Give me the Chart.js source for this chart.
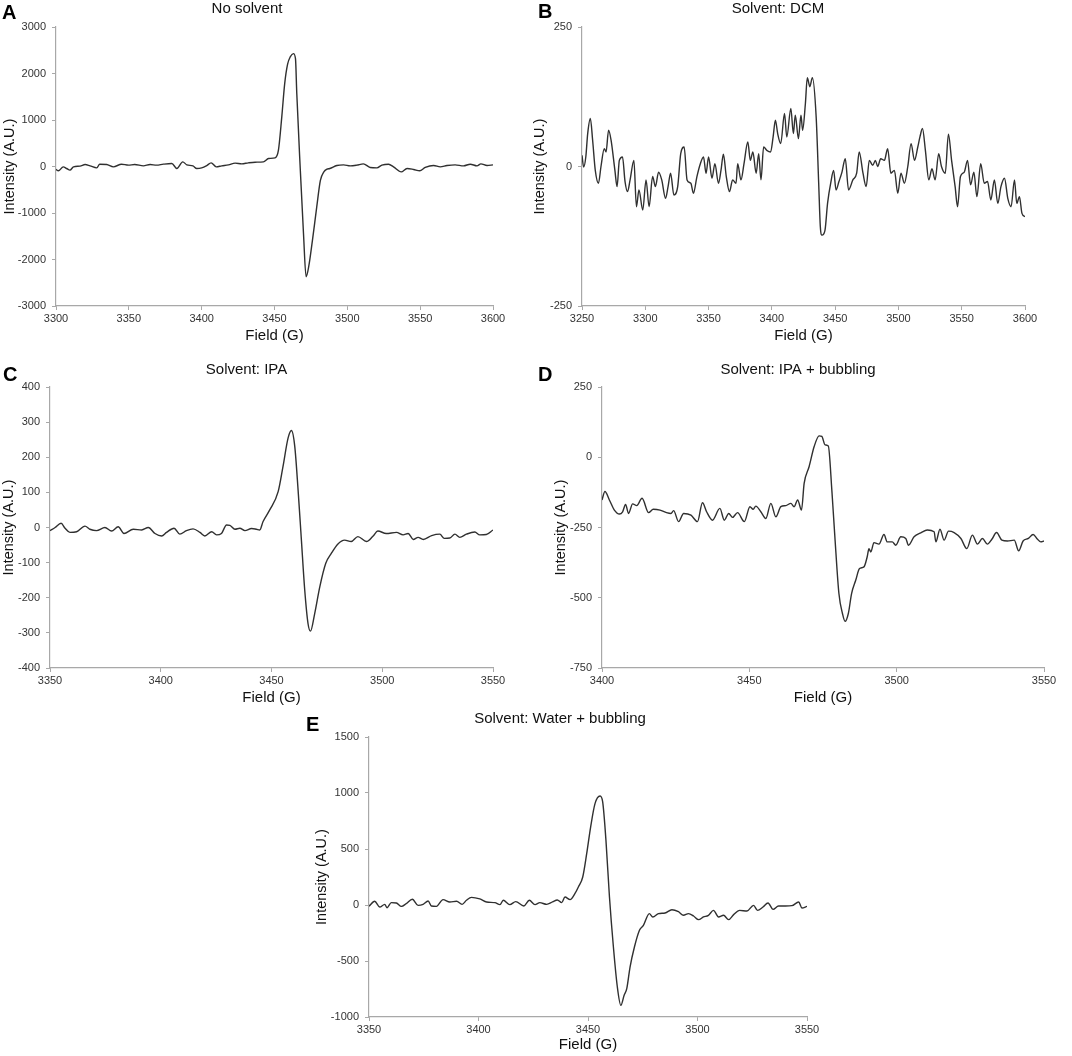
<!DOCTYPE html>
<html>
<head>
<meta charset="utf-8">
<title>EPR spectra</title>
<script src="https://cdn.jsdelivr.net/npm/chart.js@4.4.1/dist/chart.umd.min.js"></script>
<style>
  html, body { margin: 0; padding: 0; background: #fff; }
  #page { position: relative; width: 1072px; height: 1056px; overflow: hidden; font-family: "Liberation Sans", Arial, sans-serif; }
  .panel { position: absolute; }
  .letter { position: absolute; font-weight: bold; font-size: 20px; line-height: 20px; color: #000; }
</style>
</head>
<body>
<div id="page">
  <div class="panel" style="left:1px;top:0px"><canvas id="cA" width="506" height="346"></canvas></div>
  <div class="panel" style="left:531px;top:0px"><canvas id="cB" width="508" height="346"></canvas></div>
  <div class="panel" style="left:0px;top:361px"><canvas id="cC" width="506" height="347"></canvas></div>
  <div class="panel" style="left:552px;top:361px"><canvas id="cD" width="506" height="347"></canvas></div>
  <div class="panel" style="left:313px;top:710px"><canvas id="cE" width="506" height="345"></canvas></div>
  <div class="letter" style="left:2px;top:2px">A</div>
  <div class="letter" style="left:538px;top:1px">B</div>
  <div class="letter" style="left:3px;top:364px">C</div>
  <div class="letter" style="left:538px;top:364px">D</div>
  <div class="letter" style="left:306px;top:714px">E</div>
</div>
<script>
// A - no solvent
const fieldA = [3300,3301.6,3305,3307.3,3309.6,3312,3316.5,3320,3323.4,3328,
  3330,3334.8,3339.4,3345,3349.7,3354,3360,3364.6,3369,3373.7,
  3379.5,3383,3387,3389.8,3394,3396.6,3400,3403.5,3406.5,3410,
  3413.8,3418.4,3423,3427.5,3432,3436.7,3442.4,3445.9,3450.4,3452.7,
  3455,3457,3459,3460.8,3463,3464.4,3465.3,3467.6,3469.9,3471.7,
  3473.5,3476,3479,3481.5,3484,3486,3488,3492.8,3497.4,3502,
  3506.5,3511,3515.7,3520.3,3523.7,3528.3,3531.7,3537,3541,3545.5,
  3549.7,3553.5,3559.2,3563.8,3568.4,3574,3579.8,3584.4,3589,3591.7,
  3595.9,3600];
const intensityA = [-64,-93,-7,-43,-79,-7,7,43,14,-29,
  50,43,-7,50,29,43,14,43,29,50,
  64,-43,100,36,14,-43,-29,21,79,-7,
  14,36,72,57,79,93,100,172,186,351,
  1067,1783,2200,2356,2427,2320,1568,0,-1440,-2370,
  -2150,-1600,-870,-300,-110,-57,-43,21,36,14,
  29,57,-21,-29,29,50,-7,-115,-43,-64,
  -93,-21,21,-7,21,36,14,50,14,57,
  21,36];

// B - DCM
const fieldB = [3250,3251.3,3253,3254.5,3256.6,3258.4,3260.5,3263,3265,3267.6,
  3269,3271,3273,3276,3277.7,3279.5,3282,3284,3286,3288,
  3291,3293,3295,3298,3300.6,3303,3305.8,3308,3310.5,3313,
  3316,3318,3320,3322.6,3325.6,3328,3330.7,3333,3336,3338,
  3340.8,3343.5,3346,3348,3350,3352.7,3355,3357.8,3359.8,3361.7,
  3364,3366.5,3369,3371.7,3373,3375.6,3378,3381,3383,3385,
  3387.6,3389.6,3391.4,3393.5,3396,3399,3401,3402.8,3404.6,3407,
  3410,3411.8,3415,3417,3418.5,3421,3423,3424.3,3426.5,3428,
  3430,3432,3435,3437,3438.3,3439.6,3442,3444,3446.7,3448.8,
  3450.7,3453,3455.4,3458,3460.6,3464,3467,3469,3472,3474.5,
  3477,3479.7,3481.8,3483.6,3486,3488.9,3491.5,3494,3496.8,3499.5,
  3502,3504.7,3507.4,3510,3512.7,3515.3,3517,3519,3521.3,3524,
  3526.5,3529,3531.8,3534,3537,3539.5,3542,3544.8,3546.7,3549,
  3552,3554.6,3557,3559.6,3562,3565,3567.8,3570.4,3573,3575.8,
  3578.5,3581,3583.8,3586.4,3589,3591.7,3593.5,3595.6,3597.6,3600];
const intensityB = [20,-1,17,59,86,47,-7,-30,0,32,
  26,65,47,-7,-36,11,17,-27,-45,-24,
  11,-72,-42,-78,-24,-72,-18,-36,-10,-24,
  -57,-36,-12,-51,-36,23,35,-24,-30,-48,
  -18,5,17,-12,17,-21,5,-30,-7,22,
  -18,-45,-24,-30,5,-24,5,44,11,26,
  -12,23,-24,35,29,26,53,83,59,41,
  95,53,104,59,92,50,92,65,113,159,
  143,159,89,-30,-108,-123,-114,-66,-27,-7,
  -42,-27,-10,14,-42,-24,-12,26,-12,-36,
  11,2,11,0,14,11,32,-12,-7,-48,
  -12,-30,0,41,11,35,53,68,29,-24,
  -4,-24,23,0,-12,58,11,-36,-72,-18,
  -10,11,-33,-10,-54,5,-30,-27,-60,-24,
  -66,-36,-21,-57,-72,-24,-66,-54,-84,-90];

// C - IPA
const fieldC = [3350,3352.3,3355,3356.8,3359,3362,3365.8,3368,3371,3374.8,
  3377.8,3380.8,3383.4,3387.6,3391.4,3394.4,3397.4,3400.4,3402.6,3406,
  3408.6,3411.6,3414.6,3417.7,3419.9,3423,3425.2,3427.4,3429.7,3431.2,
  3433.5,3435.7,3438,3441,3443.2,3444.7,3446.2,3449.2,3453,3455.2,
  3457.5,3459,3460.5,3462,3463.5,3465,3466.5,3467.6,3469.5,3471.8,
  3474.5,3477,3480,3483,3486,3489,3492.9,3495.9,3498,3501.8,
  3506.4,3509.4,3511.7,3514,3516.2,3518.5,3522.3,3526,3528,3530.5,
  3532.8,3535,3538,3541.8,3544,3547,3550];
const intensityC = [-9,0,12,-2,-14,-12,4,-5,-9,0,
  -10,2,-17,-5,-7,0,-17,-24,-14,-2,
  -19,-9,-4,-14,-24,-12,-21,-17,7,6,
  -5,-2,-9,-3,-5,-7,17,50,102,174,
  255,276,231,107,-36,-178,-274,-295,-245,-169,
  -102,-74,-47,-36,-40,-26,-40,-24,-10,-17,
  -14,-21,-17,-34,-28,-34,-23,-19,-31,-30,
  -19,-28,-19,-13,-21,-20,-7];

// D - IPA + bubbling
const fieldD = [3400,3401,3402.5,3404.2,3405.9,3407,3408,3409,3410.4,3411.8,
  3413.6,3415.8,3417.4,3419.7,3421.9,3423.4,3424.3,3426,3427.7,3430.2,
  3432.4,3434.1,3435.5,3437.5,3440,3441.5,3443,3444.3,3446,3448.3,
  3450.2,3451.3,3452.2,3453.9,3455.6,3457.3,3459,3460.7,3462.4,3464.1,
  3465.2,3466.4,3467.7,3468.6,3470.3,3472,3473.7,3474.6,3475.7,3476.8,
  3478,3479.1,3480.4,3481.6,3482.5,3483.6,3484.7,3486.1,3487.4,3488.9,
  3490,3490.6,3491.2,3492.3,3494,3495.7,3496.8,3498.5,3499.7,3501.4,
  3503.1,3504,3505.9,3508.2,3510.4,3512.7,3513.3,3514.7,3516.1,3517.6,
  3519.5,3521.8,3523.8,3525.7,3527.4,3529.1,3530.8,3532.3,3533.9,3535.7,
  3537.6,3539.9,3541.4,3542.9,3544.7,3546.3,3547.8,3548.9,3550];
const intensityD = [-152,-122,-152,-188,-202,-194,-168,-200,-166,-172,
  -146,-197,-185,-188,-197,-200,-190,-229,-200,-206,
  -229,-162,-194,-224,-182,-224,-200,-214,-197,-229,
  -176,-185,-174,-194,-218,-164,-212,-176,-172,-164,
  -176,-152,-188,-93,-33,38,76,74,44,40,
  -117,-295,-485,-556,-584,-556,-485,-438,-396,-390,
  -354,-325,-337,-304,-309,-275,-301,-301,-313,-283,
  -289,-313,-283,-269,-259,-265,-301,-256,-295,-263,
  -268,-289,-325,-277,-309,-289,-309,-292,-268,-295,
  -298,-295,-333,-298,-289,-275,-292,-301,-298];

// E - water + bubbling
const fieldE = [3350,3352.6,3354.9,3357.2,3358.2,3360.2,3362.5,3364.8,3367,3369.8,
  3372.4,3374.7,3377,3378.5,3380.8,3383.8,3386.9,3390,3392.5,3394.5,
  3396.8,3400.6,3403.7,3407.5,3409.8,3411.3,3414.3,3417,3420.7,3423.2,
  3425.8,3428,3431.1,3433.8,3436,3438,3439.5,3441.8,3444,3445.6,
  3447.6,3449.4,3451.2,3453.2,3455.5,3456.7,3458.2,3459.8,3461.6,3463.4,
  3465,3466.5,3467.7,3469.2,3471.2,3473.5,3475.3,3478,3479.6,3482.2,
  3485.2,3488.3,3491.3,3493.6,3495.9,3498.2,3500.5,3502.7,3505,3507.3,
  3509.6,3511.9,3514.2,3516.5,3519.2,3522.6,3525.6,3527.4,3529.9,3532.2,
  3534.5,3537,3540.1,3543.1,3546.2,3547.7,3550];
const intensityE = [-12,33,-18,6,-24,21,18,-12,12,51,
  -3,6,36,-9,-12,48,27,33,6,42,
  68,54,27,21,3,42,3,30,-9,42,
  3,21,6,27,45,21,71,48,101,161,
  250,458,696,905,973,920,577,71,-375,-732,
  -896,-806,-747,-554,-375,-226,-182,-77,-107,-77,
  -71,-42,-60,-92,-77,-98,-131,-107,-92,-48,
  -107,-92,-131,-86,-48,-54,-3,-48,-18,18,
  -39,-9,-9,-6,27,-27,-12];

// tick labels
const fieldTicksA = [3300, 3350, 3400, 3450, 3500, 3550, 3600];
const intensityTicksA = [-3000, -2000, -1000, 0, 1000, 2000, 3000];
const fieldTicksB = [3250, 3300, 3350, 3400, 3450, 3500, 3550, 3600];
const intensityTicksB = [-250, 0, 250];
const fieldTicksC = [3350, 3400, 3450, 3500, 3550];
const intensityTicksC = [-400, -300, -200, -100, 0, 100, 200, 300, 400];
const fieldTicksD = [3400, 3450, 3500, 3550];
const intensityTicksD = [-750, -500, -250, 0, 250];
const fieldTicksE = [3350, 3400, 3450, 3500, 3550];
const intensityTicksE = [-1000, -500, 0, 500, 1000, 1500];

const titles = ['No solvent', 'Solvent: DCM', 'Solvent: IPA', 'Solvent: IPA + bubbling', 'Solvent: Water + bubbling'];

Chart.defaults.font.family = '"Liberation Sans", Arial, sans-serif';
Chart.defaults.animation = false;

const axisGray = '#a8a8a8';

function spectrum(id, title, fields, values, xTicks, yTicks, box) {
  const first = arr => arr[0];
  const last = arr => arr[arr.length - 1];
  new Chart(document.getElementById(id), {
    type: 'line',
    data: {
      datasets: [{
        data: fields.map((f, i) => ({ x: f, y: values[i] })),
        borderColor: '#303030',
        borderWidth: 1.4,
        pointRadius: 0,
        fill: false,
        cubicInterpolationMode: 'monotone'
      }]
    },
    options: {
      responsive: false,
      animation: false,
      events: [],
      layout: { padding: { left: 0, right: box.padRight, top: 0, bottom: 0 } },
      plugins: {
        legend: { display: false },
        tooltip: { enabled: false },
        title: {
          display: true,
          text: title,
          color: '#111',
          font: { size: 15, weight: 'normal' },
          padding: { top: 0, bottom: box.titleGap }
        }
      },
      scales: {
        x: {
          type: 'linear',
          min: first(xTicks),
          max: last(xTicks),
          afterBuildTicks: s => { s.ticks = xTicks.map(v => ({ value: v })); },
          afterFit: s => { s.height = box.xHeight; s.paddingLeft = 0; s.paddingRight = 0; },
          grid: { display: true, drawOnChartArea: false, drawTicks: true, tickLength: 4, color: axisGray },
          border: { display: true, color: axisGray, width: 1.2 },
          ticks: { color: '#333', font: { size: 11 }, padding: 2, maxRotation: 0, autoSkip: false, callback: v => String(v) },
          title: { display: true, text: 'Field (G)', color: '#111', font: { size: 15 }, padding: { top: 0, bottom: 1 } }
        },
        y: {
          type: 'linear',
          min: first(yTicks),
          max: last(yTicks),
          afterBuildTicks: s => { s.ticks = yTicks.map(v => ({ value: v })); },
          afterFit: s => { s.width = box.yWidth; s.paddingTop = 0; s.paddingBottom = 0; },
          grid: { display: true, drawOnChartArea: false, drawTicks: true, tickLength: 4, color: axisGray },
          border: { display: true, color: axisGray, width: 1.2 },
          ticks: { color: '#333', font: { size: 11 }, padding: 6, autoSkip: false, callback: v => String(v) },
          title: { display: true, text: 'Intensity (A.U.)', color: '#111', font: { size: 14.5 }, padding: { top: 0, bottom: 0 } }
        }
      }
    }
  });
}

spectrum('cA', titles[0], fieldA, intensityA, fieldTicksA, intensityTicksA, { yWidth: 55, xHeight: 40, titleGap: 9, padRight: 14 });
spectrum('cB', titles[1], fieldB, intensityB, fieldTicksB, intensityTicksB, { yWidth: 51, xHeight: 40, titleGap: 9, padRight: 14 });
spectrum('cC', titles[2], fieldC, intensityC, fieldTicksC, intensityTicksC, { yWidth: 50, xHeight: 40, titleGap: 8, padRight: 13 });
spectrum('cD', titles[3], fieldD, intensityD, fieldTicksD, intensityTicksD, { yWidth: 50, xHeight: 40, titleGap: 8, padRight: 14 });
spectrum('cE', titles[4], fieldE, intensityE, fieldTicksE, intensityTicksE, { yWidth: 56, xHeight: 38, titleGap: 9, padRight: 12 });
</script>
</body>
</html>
